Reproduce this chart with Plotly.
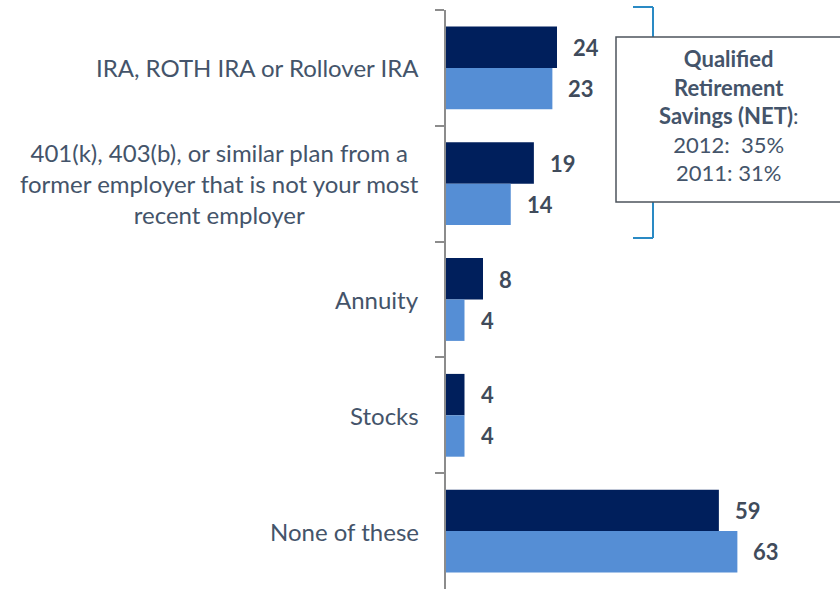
import plotly.graph_objects as go

# ---- data ----
CATEGORIES = [
    "IRA, ROTH IRA or Rollover IRA",
    "401(k), 403(b), or similar plan from a<br>former employer that is not your most<br>recent employer",
    "Annuity",
    "Stocks",
    "None of these",
]
VALUES_2012 = [24, 19, 8, 4, 59]
VALUES_2011 = [23, 14, 4, 4, 63]
NET_LINES = ["2012:  35%", "2011: 31%"]

DARK = "#001F5C"
LIGHT = "#558ED5"
TEXT = "#44546A"
LABEL = "#404B5B"
FONT = "Lato"

W, H = 840, 589
L, T = 446, 10
PLOT_W, PLOT_H = W - L, H - T


def px_x(p):
    return (p - L) / PLOT_W


def px_y(p):
    return (H - p) / PLOT_H


fig = go.Figure()
fig.add_trace(go.Bar(y=CATEGORIES, x=VALUES_2012, orientation="h", name="2012",
                     marker=dict(color=DARK, line=dict(width=0))))
fig.add_trace(go.Bar(y=CATEGORIES, x=VALUES_2011, orientation="h", name="2011",
                     marker=dict(color=LIGHT, line=dict(width=0))))

# value labels next to each bar
for vals, shift in ((VALUES_2012, 20.5), (VALUES_2011, -20.5)):
    for cat, v in zip(CATEGORIES, vals):
        fig.add_annotation(x=v, y=cat, xref="x", yref="y", text=f"<b>{v}</b>",
                           showarrow=False, xanchor="left", xshift=14, yshift=shift,
                           font=dict(family=FONT, size=22, color=LABEL))

# category labels (centred multi-line)
for cat in CATEGORIES:
    fig.add_annotation(x=0, y=cat, xref="paper", yref="y", text=cat,
                       showarrow=False, xanchor="right", xshift=-25, align="center",
                       font=dict(family=FONT, size=24, color=TEXT))

# bracket + NET box
bracket = "#2A8AC4"
fig.add_shape(type="line", xref="paper", yref="paper", x0=px_x(653), x1=px_x(653),
              y0=px_y(7), y1=px_y(238), line=dict(color=bracket, width=2))
for yy in (7, 238):
    fig.add_shape(type="line", xref="paper", yref="paper", x0=px_x(633), x1=px_x(653),
                  y0=px_y(yy), y1=px_y(yy), line=dict(color=bracket, width=2))
fig.add_shape(type="rect", xref="paper", yref="paper", x0=px_x(616), x1=px_x(860),
              y0=px_y(202), y1=px_y(37), fillcolor="white",
              line=dict(color="#4D545C", width=1.5))
fig.add_annotation(x=px_x(728), y=px_y(116), xref="paper", yref="paper",
                   xanchor="center", yanchor="middle",
                   text="<b>Qualified</b><br><b>Retirement</b><br><b>Savings (NET)</b>:<br>"
                        + "<br>".join(NET_LINES),
                   showarrow=False, align="center",
                   font=dict(family=FONT, size=22, color=TEXT))

fig.update_layout(
    width=W, height=H,
    margin=dict(l=L, r=0, t=T, b=0),
    paper_bgcolor="white", plot_bgcolor="white",
    barmode="group", bargap=0.285, bargroupgap=0,
    showlegend=False,
    xaxis=dict(range=[0, PLOT_W / 4.625], visible=False, fixedrange=True),
    yaxis=dict(range=[4.5, -0.5], showticklabels=False, showgrid=False,
               showline=True, linecolor="#8C8C8C", linewidth=2,
               ticks="outside", tickson="boundaries", ticklen=9,
               tickcolor="#8C8C8C", tickwidth=2, zeroline=False, fixedrange=True),
)

fig.write_html("out.html", config={"displayModeBar": False},
               post_script="document.body.style.margin='0';")
